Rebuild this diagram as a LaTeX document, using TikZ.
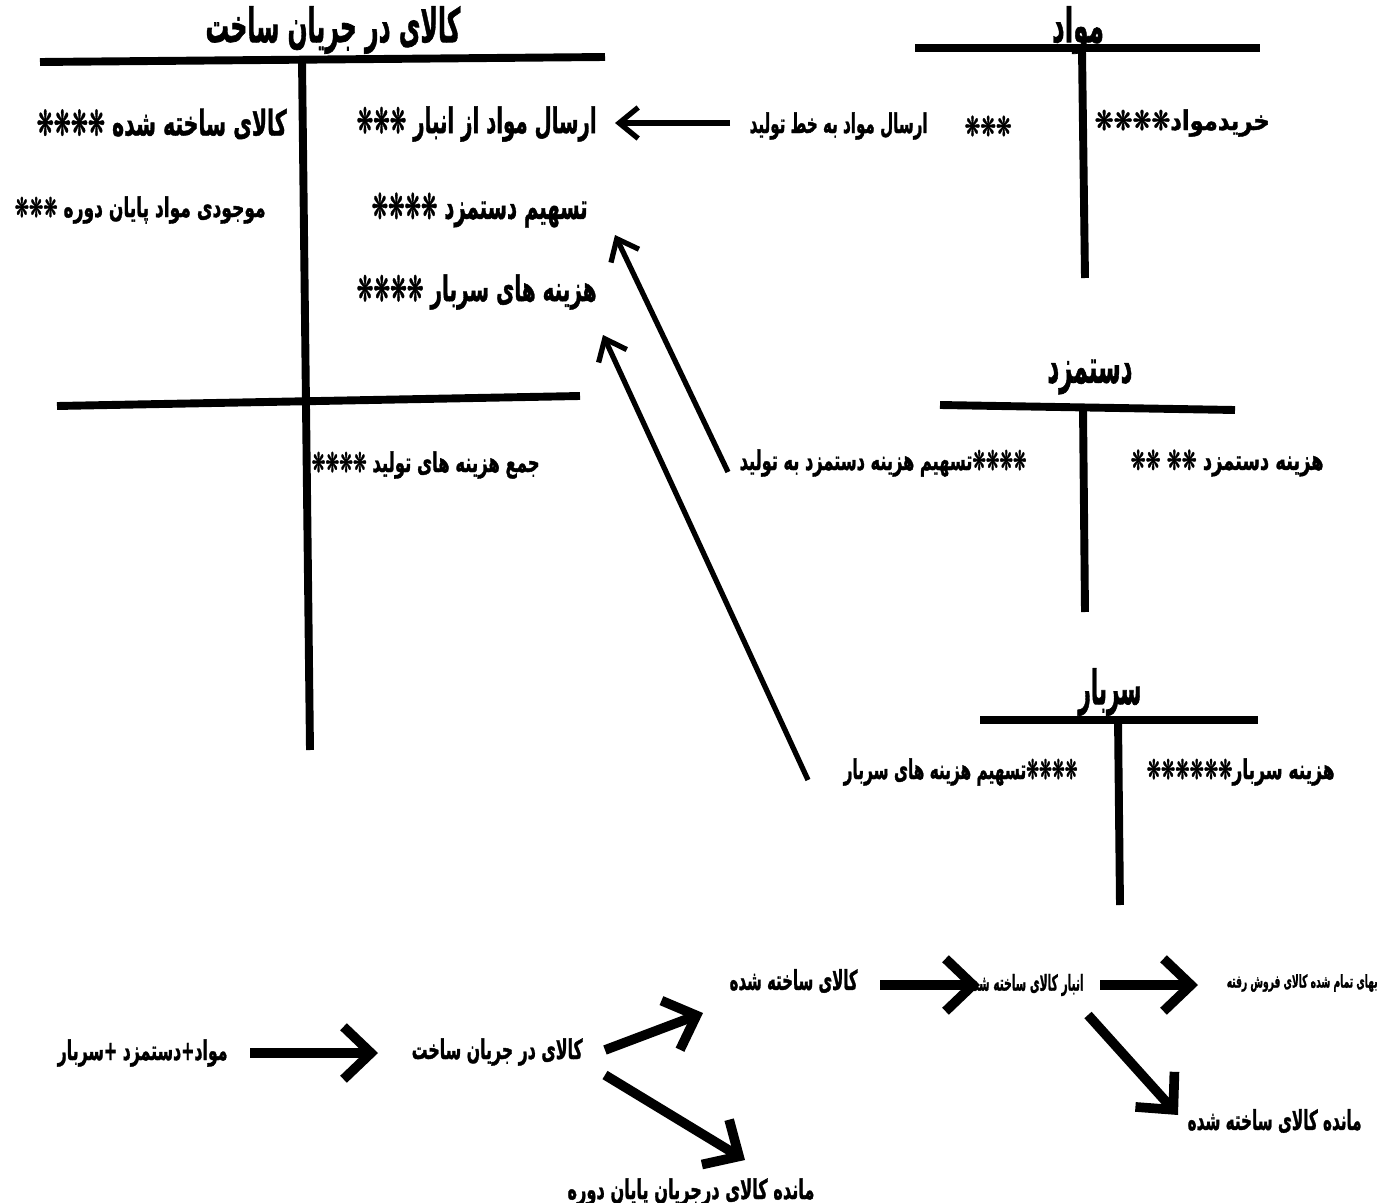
\documentclass[tikz,border=0pt]{standalone}
\usepackage{fontspec}
\usepackage{graphicx}
\usetikzlibrary{arrows.meta}
\TeXXeTstate=1
\newfontfamily\arabicfont[Script=Arabic,BoldFeatures={FakeBold=1.5}]{DejaVu Sans}
% set Persian text and squeeze it horizontally to a width given in picture pixels
\newcommand\fitw[2]{\setbox0=\hbox{\arabicfont\bfseries #2}\edef\fitfactor{\fpeval{#1*0.5690551pt/(\the\wd0)}}\scalebox{\fitfactor}[1]{\box0}}
\tikzset{
  tline/.style={line width=4.5pt},
  txt/.style={inner sep=0pt, anchor=east},
  ttl/.style={inner sep=0pt, font=\fontsize{27}{31}\selectfont},
  big/.style={font=\fontsize{20}{24}\selectfont},
  mid/.style={font=\fontsize{15.5}{18}\selectfont},
  sml/.style={font=\fontsize{12.5}{15}\selectfont},
  tiny/.style={font=\fontsize{10}{12}\selectfont},
  thinarrow/.style={line width=3pt, -{Straight Barb[length=0.38cm,width=0.62cm]}},
  bigarrow/.style={line width=5.5pt, -{Straight Barb[length=0.55cm,width=1.05cm]}}
}
\begin{document}
\begin{tikzpicture}[x=0.02cm,y=-0.02cm]
\useasboundingbox[fill=white] (0,0) rectangle (1380,1203);

% ---------- WIP T-account ----------
\node[ttl] (wipT) at (333,30) {\fitw{255}{\beginR کالای در جریان ساخت\endR}};
\coordinate (w1) at (40,62); \coordinate (w2) at (605,57);
\coordinate (w3) at (302,60); \coordinate (w4) at (310,750);
\coordinate (w5) at (57,406); \coordinate (w6) at (580,396);
\draw[tline] (w1) -- (w2);
\draw[tline] (w3) -- (w4);
\draw[tline] (w5) -- (w6);

\node[txt,big] (fg) at (287,124) {\fitw{250}{\beginR کالای ساخته شده ❋❋❋❋\endR}};
\node[txt,mid] (endinv) at (266,210) {\fitw{251}{\beginR موجودی مواد پایان دوره ❋❋❋\endR}};
\node[txt,big] (matin) at (597,124) {\fitw{240}{\beginR ارسال مواد از انبار ❋❋❋\endR}};
\node[txt,big] (labin) at (588,210) {\fitw{216}{\beginR تسهیم دستمزد ❋❋❋❋\endR}};
\node[txt,big] (ohin) at (597,292) {\fitw{240}{\beginR هزینه های سربار ❋❋❋❋\endR}};
\node[txt,mid] (total) at (540,465) {\fitw{228}{\beginR جمع هزینه های تولید ❋❋❋❋\endR}};

% ---------- Materials ----------
\node[ttl] (matT) at (1078,30) {\fitw{52}{\beginR مواد\endR}};
\coordinate (m1) at (915,48); \coordinate (m2) at (1260,48);
\coordinate (m3) at (1082,50); \coordinate (m4) at (1085,278);
\draw[tline] (m1) -- (m2);
\draw[tline] (m3) -- (m4);
\node[txt,mid] (matout) at (928,126) {\fitw{178}{\beginR ارسال مواد به خط تولید\endR}};
\node[txt,mid] (matoutst) at (1012,126) {\fitw{47}{\beginR ❋❋❋\endR}};
\node[txt,mid] (matbuy) at (1270,123) {\fitw{175}{\beginR خریدمواد❋❋❋❋\endR}};
\coordinate (a1s) at (730,123); \coordinate (a1e) at (615,123);
\draw[thinarrow] (a1s) -- (a1e);

% ---------- Labor ----------
\node[ttl] (labT) at (1090,377) {\fitw{85}{\beginR دستمزد\endR}};
\coordinate (l1) at (940,405); \coordinate (l2) at (1235,410);
\coordinate (l3) at (1083,408); \coordinate (l4) at (1085,612);
\draw[tline] (l1) -- (l2);
\draw[tline] (l3) -- (l4);
\node[txt,mid] (labout) at (1027,463) {\fitw{287}{\beginR ❋❋❋❋تسهیم  هزینه دستمزد به تولید\endR}};
\node[txt,mid] (labcost) at (1324,463) {\fitw{193}{\beginR هزینه دستمزد ❋❋ ❋❋\endR}};
\coordinate (a2s) at (728,472); \coordinate (a2e) at (615,235);
\draw[thinarrow] (a2s) -- (a2e);

% ---------- Overhead ----------
\node[ttl] (ohT) at (1110,692) {\fitw{63}{\beginR سربار\endR}};
\coordinate (o1) at (980,720); \coordinate (o2) at (1258,720);
\coordinate (o3) at (1118,718); \coordinate (o4) at (1120,905);
\draw[tline] (o1) -- (o2);
\draw[tline] (o3) -- (o4);
\node[txt,mid] (ohout) at (1078,772) {\fitw{234}{\beginR ❋❋❋❋تسهیم هزینه های سربار\endR}};
\node[txt,mid] (ohcost) at (1335,772) {\fitw{188}{\beginR هزینه سربار❋❋❋❋❋❋\endR}};
\coordinate (a3s) at (808,780); \coordinate (a3e) at (603,335);
\draw[thinarrow] (a3s) -- (a3e);

% ---------- Bottom flow ----------
\node[txt,mid] (inputs) at (228,1053) {\fitw{170}{\beginR مواد+دستمزد +سربار\endR}};
\node[txt,mid] (wip) at (583,1052) {\fitw{171}{\beginR کالای در جریان ساخت\endR}};
\node[txt,mid] (fgood) at (858,981) {\fitw{128}{\beginR کالای ساخته شده\endR}};
\node[txt,sml] (fgstore) at (1084,985) {\fitw{117}{\beginR انبار کالای ساخته شده\endR}};
\node[txt,tiny] (cogs) at (1378,983) {\fitw{151}{\beginR بهای تمام شده کالای فروش رفته\endR}};
\node[txt,mid] (fgend) at (1362,1121) {\fitw{174}{\beginR مانده کالای ساخته شده\endR}};
\node[inner sep=0pt,mid] (wipend) at (691,1192) {\fitw{247}{\beginR مانده کالای درجریان پایان دوره\endR}};

\coordinate (b1s) at (250,1053); \coordinate (b1e) at (378,1053);
\draw[bigarrow] (b1s) -- (b1e);
\coordinate (b2s) at (605,1050); \coordinate (b2e) at (703,1013);
\draw[bigarrow] (b2s) -- (b2e);
\coordinate (b3s) at (605,1075); \coordinate (b3e) at (745,1160);
\draw[bigarrow] (b3s) -- (b3e);
\coordinate (b4s) at (880,985); \coordinate (b4e) at (980,985);
\draw[bigarrow] (b4s) -- (b4e);
\coordinate (b5s) at (1100,985); \coordinate (b5e) at (1198,985);
\draw[bigarrow] (b5s) -- (b5e);
\coordinate (b6s) at (1088,1015); \coordinate (b6e) at (1178,1115);
\draw[bigarrow] (b6s) -- (b6e);
\end{tikzpicture}
\end{document}
